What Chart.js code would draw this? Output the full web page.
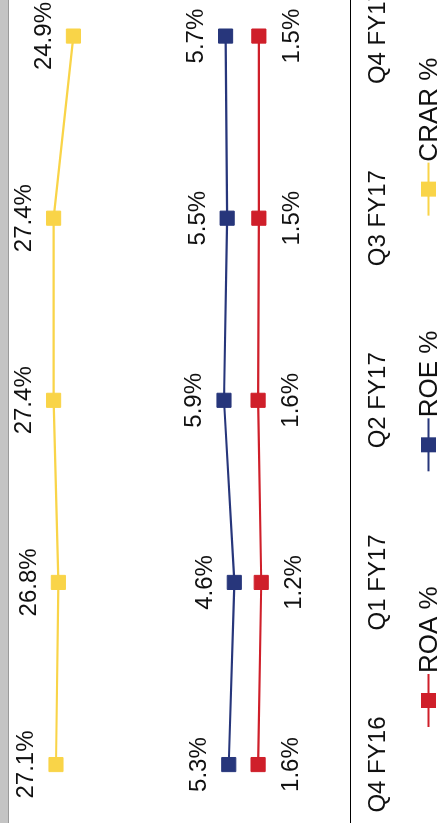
<!DOCTYPE html>
<html>
<head>
<meta charset="utf-8">
<script src="https://cdn.jsdelivr.net/npm/chart.js@4.4.1/dist/chart.umd.min.js"></script>
<style>
  html, body { margin: 0; padding: 0; background: #fff; overflow: hidden; }
  /* the chart is laid out landscape and turned a quarter turn to the left */
  #sheet {
    position: absolute; left: 0; top: 0;
    width: 823px; height: 439px;
    overflow: hidden; background: #fff;
    transform-origin: 0 0;
    transform: translate(0, 823px) rotate(-90deg);
  }
  #frame {
    position: absolute; left: 0; top: 0; width: 823px; height: 8px;
    background: #c4c4c4; border-bottom: 1px solid #9a9a9a; z-index: 2;
  }
  /* wider than the sheet so the plot runs off both ends, as in the cropped original */
  #box { position: absolute; left: -60px; top: 0; width: 960px; height: 439px; }
</style>
</head>
<body>
<div id="sheet">
  <div id="frame"></div>
  <div id="box"><canvas id="chart"></canvas></div>
</div>
<script>
const quarters = ['Q4 FY16', 'Q1 FY17', 'Q2 FY17', 'Q3 FY17', 'Q4 FY17'];
const roa = [1.6, 1.2, 1.6, 1.5, 1.5];
const roe = [5.3, 4.6, 5.9, 5.5, 5.7];
const crar = [27.1, 26.8, 27.4, 27.4, 24.9];

const FONT = '"Liberation Sans", Arial, sans-serif';
Chart.defaults.font.family = FONT;
Chart.defaults.color = '#111';

// value labels: ROA under its points, the others above
const pointLabels = {
  id: 'pointLabels',
  afterDatasetsDraw(chart) {
    const ctx = chart.ctx;
    ctx.save();
    ctx.font = '24px ' + FONT;
    ctx.fillStyle = '#111';
    ctx.textAlign = 'center';
    ctx.textBaseline = 'alphabetic';
    chart.data.datasets.forEach((ds, i) => {
      chart.getDatasetMeta(i).data.forEach((pt, j) => {
        const y = ds.labelBelow ? pt.y + 40 : pt.y - 22.5;
        ctx.fillText(ds.data[j].toFixed(1) + '%', pt.x, y);
      });
    });
    ctx.restore();
  }
};

// legend drawn as line + square marker followed by the series name
const lineLegend = {
  id: 'lineLegend',
  afterDraw(chart) {
    const ctx = chart.ctx;
    const y = 428.5;
    let x = 156; // 96px into the visible sheet
    ctx.save();
    ctx.font = '26px ' + FONT;
    ctx.textBaseline = 'alphabetic';
    ctx.textAlign = 'left';
    chart.data.datasets.forEach(ds => {
      ctx.strokeStyle = ds.borderColor;
      ctx.lineWidth = 2;
      ctx.beginPath();
      ctx.moveTo(x, y);
      ctx.lineTo(x + 53, y);
      ctx.stroke();
      ctx.fillStyle = ds.borderColor;
      ctx.fillRect(x + 19, y - 7.5, 15, 15);
      ctx.fillStyle = '#111';
      ctx.fillText(ds.label, x + 54, 437);
      x += 53 + ctx.measureText(ds.label).width + 116;
    });
    ctx.restore();
  }
};

const series = (label, data, color, labelBelow) => ({
  label, data, labelBelow,
  borderColor: color,
  backgroundColor: color,
  borderWidth: 2.2,
  pointStyle: 'rect',
  pointRadius: 10,
  pointBorderWidth: 1,
  pointBackgroundColor: color,
  tension: 0
});

new Chart(document.getElementById('chart'), {
  type: 'line',
  data: {
    labels: quarters,
    datasets: [
      series('ROA %', roa, '#cf1f2a', true),
      series('ROE %', roe, '#27367b', false),
      series('CRAR %', crar, '#f9d448', false)
    ]
  },
  options: {
    responsive: true,
    maintainAspectRatio: false,
    animation: false,
    layout: { padding: { left: 27.4, right: 22, top: 33, bottom: 32.2 } },
    plugins: { legend: { display: false }, tooltip: { enabled: false } },
    scales: {
      x: {
        offset: true,
        grid: { display: false, drawTicks: false },
        border: { display: true, color: '#000', width: 1 },
        ticks: { font: { size: 24 }, color: '#111', padding: 14, maxRotation: 0, autoSkip: false }
      },
      y: { display: false, min: -10, max: 30 }
    }
  },
  plugins: [pointLabels, lineLegend]
});
</script>
</body>
</html>
